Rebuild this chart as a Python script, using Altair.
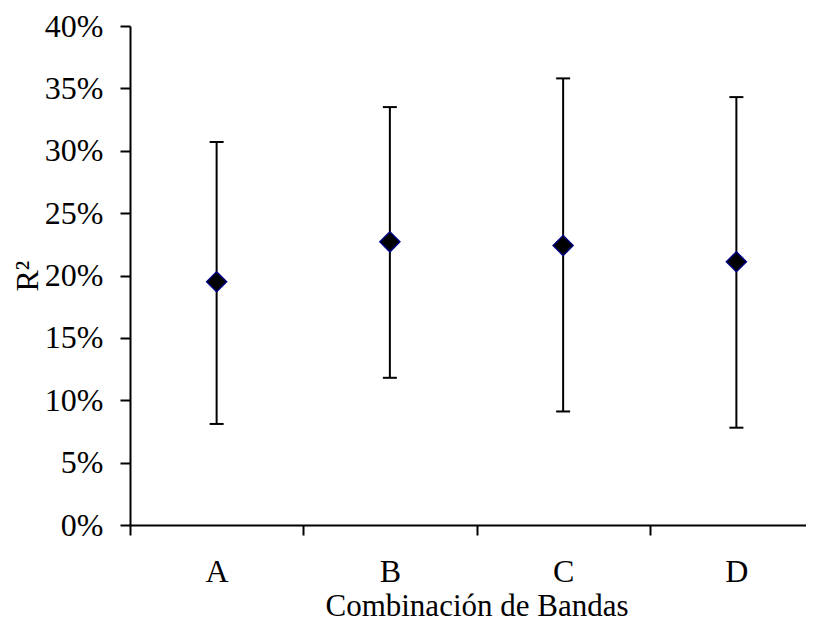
import altair as alt
import pandas as pd

categories = ["A", "B", "C", "D"]
r2_values = [0.195, 0.227, 0.224, 0.211]
lower = [0.081, 0.118, 0.091, 0.078]
upper = [0.307, 0.335, 0.358, 0.343]
y_ticks = [0.0, 0.05, 0.10, 0.15, 0.20, 0.25, 0.30, 0.35, 0.40]

df = pd.DataFrame({"cat": categories, "r2": r2_values, "lo": lower, "hi": upper})

FONT = "Liberation Serif"
FS = 32

x_enc = alt.X(
    "cat:N",
    sort=categories,
    title="Combinación de Bandas",
    scale=alt.Scale(domain=categories, range=[0, 693], paddingInner=0, paddingOuter=0),
    axis=alt.Axis(
        labelAngle=0, tickBand="extent", labelFont=FONT, labelFontSize=FS,
        labelColor="black", labelPadding=21, tickSize=10, tickColor="black",
        tickWidth=2, domainColor="black", domainWidth=2, titleFont=FONT,
        titleFontSize=31, titleFontWeight="normal", titleColor="black",
        titlePadding=4, grid=False,
    ),
)

y_axis = alt.Axis(
    values=y_ticks, format=".0%", labelFont=FONT, labelFontSize=FS,
    labelColor="black", labelPadding=17, tickSize=10, tickColor="black",
    tickWidth=2, domainColor="black", domainWidth=2, grid=False,
    titleFont=FONT, titleFontSize=FS, titleFontWeight="normal",
    titleColor="black", titleX=-93, titleY=249.5, titleAngle=-90,
    titleAlign="center", titleBaseline="alphabetic",
)
y_scale = alt.Scale(domain=[0, 0.4], nice=False)


def yenc(field):
    return alt.Y(f"{field}:Q", title="R²", scale=y_scale, axis=y_axis)


rules = alt.Chart(df).mark_rule(color="black", strokeWidth=2).encode(
    x=x_enc, y=yenc("lo"), y2="hi:Q"
)
caps_lo = alt.Chart(df).mark_tick(color="black", size=14, thickness=2, opacity=1).encode(
    x=x_enc, y=yenc("lo")
)
caps_hi = alt.Chart(df).mark_tick(color="black", size=14, thickness=2, opacity=1).encode(
    x=x_enc, y=yenc("hi")
)
points = alt.Chart(df).mark_point(
    shape="diamond", filled=True, fill="black", stroke="#000080",
    strokeWidth=1.5, size=400, opacity=1
).encode(x=x_enc, y=yenc("r2"))

chart = alt.layer(rules, caps_lo, caps_hi, points).properties(
    width=676, height=499,
    autosize=alt.AutoSizeParams(type="none"),
    padding={"left": 122, "top": 18, "right": 0, "bottom": 100},
).configure_view(stroke=None)

chart.save("out.html", embed_options={"renderer": "svg", "actions": False})
